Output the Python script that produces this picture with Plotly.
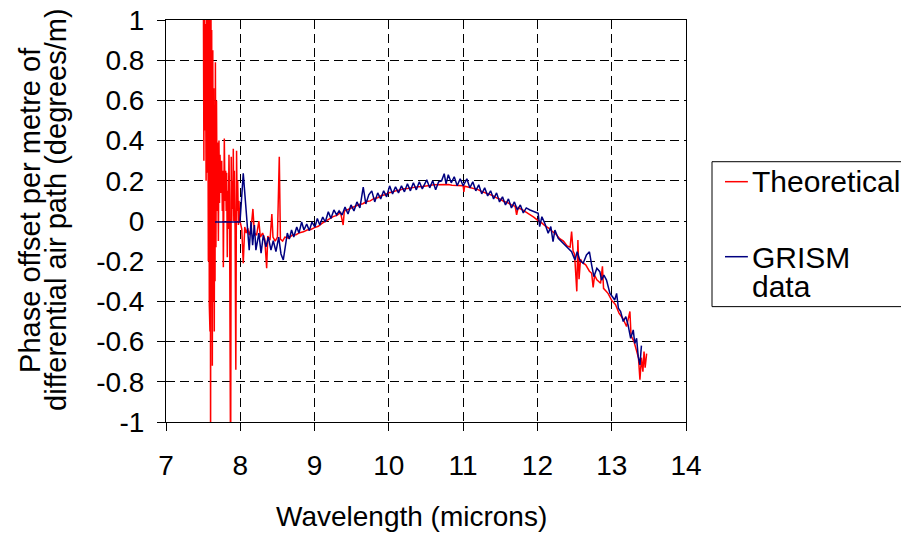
import plotly.graph_objects as go

# Theoretical phase offset
theo_wavelength = [
    7.502, 7.505, 7.51, 7.515, 7.525, 7.53, 7.54, 7.547, 7.555, 7.56, 7.57, 7.575,
    7.583, 7.587, 7.592, 7.596, 7.60, 7.605, 7.61, 7.615, 7.62, 7.624, 7.63, 7.637,
    7.643, 7.65, 7.655, 7.66, 7.665, 7.672, 7.68, 7.688, 7.695, 7.705, 7.713, 7.72,
    7.727, 7.74, 7.75, 7.758, 7.765, 7.772, 7.785, 7.795, 7.803, 7.81, 7.817, 7.825,
    7.83, 7.838, 7.848, 7.855, 7.87, 7.878, 7.885, 7.893, 7.90, 7.906, 7.913, 7.92,
    7.93, 7.94, 7.95, 7.958, 7.965, 7.975, 7.982, 7.99, 7.996,
    8.02, 8.04, 8.06, 8.08, 8.10, 8.12, 8.145, 8.17, 8.19, 8.22, 8.25, 8.27, 8.30,
    8.33, 8.355, 8.37, 8.40, 8.425, 8.44, 8.47, 8.50, 8.525, 8.54, 8.57, 8.60, 8.65,
    8.70, 8.75, 8.80, 8.85, 8.90, 8.95, 9.00, 9.05, 9.10, 9.15, 9.20, 9.25, 9.30,
    9.35, 9.385, 9.40, 9.45, 9.50, 9.55, 9.60, 9.65, 9.70, 9.75, 9.80, 9.85, 9.90,
    9.95, 10.00, 10.05, 10.10, 10.15, 10.20, 10.25, 10.30, 10.35, 10.40, 10.45,
    10.50, 10.55, 10.60, 10.65, 10.70, 10.75, 10.80, 10.85, 10.90, 10.95, 11.00,
    11.01, 11.02, 11.05, 11.10, 11.15, 11.20, 11.25, 11.30, 11.35, 11.40, 11.45,
    11.50, 11.55, 11.60, 11.65, 11.70, 11.72, 11.74, 11.80, 11.85, 11.90, 11.95,
    12.00, 12.05, 12.10, 12.15, 12.20, 12.25, 12.30, 12.35, 12.40, 12.44, 12.46,
    12.48, 12.50, 12.53, 12.545, 12.56, 12.58, 12.60, 12.65, 12.70, 12.73, 12.75,
    12.77, 12.80, 12.85, 12.875, 12.89, 12.95, 13.00, 13.05, 13.10, 13.15, 13.20,
    13.245, 13.26, 13.30, 13.33, 13.36, 13.38, 13.40, 13.42, 13.435, 13.45, 13.47,
]
theo_phase = [
    1.3, 0.62, 0.3, 1.3, 0.45, 0.98, 0.2, 1.3, 0.24, 1.3, -0.2, 1.3,
    -0.42, 0.9, -0.55, 1.3, -1.3, 1.3, -0.3, 0.95, -0.45, -0.72, 0.85, -0.4,
    0.66, -0.55, 0.5, -0.3, 0.79, -0.13, 0.6, 0.05, 0.39, -0.1, 0.4, 0.09,
    0.33, 0.14, 0.3, 0.05, 0.25, -0.23, 0.41, 0.1, 0.25, 0.05, 0.24, -0.18,
    0.15, -0.04, 0.33, 0.1, -1.3, 0.32, 0.0, 0.2, 0.06, 0.36, 0.0, 0.25,
    -0.05, -0.74, 0.35, 0.05, 0.2, -0.02, 0.1, 0.02, 0.0,
    -0.04, -0.21, -0.03, -0.06, -0.035, -0.07, -0.04, 0.06, -0.06, -0.07, 0.0, -0.08, -0.06,
    -0.09, -0.235, -0.075, -0.095, 0.035, -0.08, -0.1, -0.08, 0.32, -0.09, -0.1, -0.08, -0.085,
    -0.07, -0.068, -0.058, -0.054, -0.045, -0.042, -0.033, -0.026, -0.012, 0.0, 0.008, 0.022, 0.028,
    0.042, -0.02, 0.05, 0.057, 0.066, 0.071, 0.082, 0.086, 0.097, 0.10, 0.112, 0.116, 0.127,
    0.131, 0.141, 0.144, 0.151, 0.154, 0.161, 0.162, 0.166, 0.167, 0.171, 0.172,
    0.176, 0.177, 0.18, 0.18, 0.182, 0.18, 0.181, 0.178, 0.178, 0.176, 0.175,
    0.145, 0.173, 0.17, 0.166, 0.159, 0.156, 0.147, 0.141, 0.132, 0.126, 0.115,
    0.108, 0.097, 0.091, 0.08, 0.073, 0.03, 0.066, 0.055, 0.044, 0.029, 0.019,
    0.004, -0.007, -0.023, -0.035, -0.052, -0.066, -0.088, -0.1, -0.124, -0.13, -0.053,
    -0.15, -0.165, -0.35, -0.095, -0.29, -0.19, -0.205, -0.218, -0.25, -0.26, -0.33,
    -0.27, -0.293, -0.31, -0.225, -0.335, -0.36, -0.395, -0.415, -0.46, -0.485, -0.525,
    -0.45, -0.57, -0.6, -0.64, -0.68, -0.79, -0.68, -0.75, -0.65, -0.73, -0.66,
]

# GRISM measurements
grism_wavelength = [
    7.66, 7.996, 8.04, 8.086, 8.12, 8.144, 8.166, 8.19, 8.21, 8.25, 8.28, 8.31,
    8.346, 8.377, 8.413, 8.444, 8.48, 8.517, 8.548, 8.579, 8.606, 8.633, 8.66,
    8.69, 8.72, 8.76, 8.79, 8.826, 8.857, 8.894, 8.93, 8.965, 9.005, 9.037, 9.07,
    9.11, 9.144, 9.185, 9.22, 9.26, 9.297, 9.33, 9.37, 9.41, 9.45, 9.49, 9.53,
    9.57, 9.61, 9.655, 9.69, 9.73, 9.77, 9.81, 9.85, 9.89, 9.93, 9.97, 10.01,
    10.05, 10.09, 10.13, 10.17, 10.21, 10.25, 10.29, 10.33, 10.37, 10.41, 10.45,
    10.51, 10.55, 10.59, 10.63, 10.67, 10.71, 10.745, 10.77, 10.80, 10.84, 10.88,
    10.92, 10.96, 11.00, 11.05, 11.09, 11.13, 11.17, 11.21, 11.25, 11.29, 11.33,
    11.37, 11.41, 11.45, 11.49, 11.53, 11.57, 11.61, 11.65, 11.69, 11.73, 11.77,
    11.81, 11.85, 11.90, 12.01, 12.03, 12.06, 12.10, 12.145, 12.18, 12.21, 12.235,
    12.28, 12.325, 12.37, 12.415, 12.46, 12.505, 12.535, 12.57, 12.616, 12.66,
    12.70, 12.73, 12.76, 12.80, 12.84, 12.864, 12.895, 12.93, 12.976, 13.01, 13.04,
    13.066, 13.09, 13.12, 13.155, 13.19, 13.22, 13.255, 13.29, 13.31, 13.335,
    13.357, 13.38, 13.40,
]
grism_phase = [
    -0.005, -0.005, 0.237, -0.012, -0.145, -0.005, -0.12, -0.02, -0.145, -0.06, -0.16, -0.07,
    -0.128, -0.08, -0.145, -0.098, -0.152, -0.08, -0.164, -0.194, -0.115, -0.06, -0.09,
    -0.045, -0.08, -0.03, -0.06, -0.005, -0.045, -0.015, -0.048, -0.005, -0.03, 0.013, -0.02,
    0.02, -0.005, 0.046, 0.013, 0.055, 0.03, 0.05, 0.03, 0.07, 0.035, 0.08, 0.05,
    0.095, 0.065, 0.168, 0.085, 0.13, 0.15, 0.095, 0.14, 0.11, 0.15, 0.12, 0.175,
    0.135, 0.17, 0.14, 0.175, 0.145, 0.185, 0.15, 0.19, 0.155, 0.195, 0.16,
    0.205, 0.165, 0.2, 0.155, 0.195, 0.2, 0.235, 0.185, 0.23, 0.19, 0.22,
    0.175, 0.21, 0.175, 0.21, 0.165, 0.195, 0.15, 0.18, 0.135, 0.165, 0.125,
    0.15, 0.11, 0.14, 0.095, 0.12, 0.08, 0.11, 0.065, 0.095, 0.055, 0.08,
    0.04, 0.065, 0.055, 0.038, -0.028, 0.021, -0.012, -0.061, -0.028, -0.103, -0.045,
    -0.086, -0.103, -0.119, -0.136, -0.153, -0.194, -0.153, -0.194, -0.21, -0.169,
    -0.153, -0.219, -0.277, -0.235, -0.252, -0.294, -0.269, -0.294, -0.36, -0.377, -0.393,
    -0.36, -0.434, -0.45, -0.50, -0.476, -0.517, -0.584, -0.542, -0.609, -0.584,
    -0.675, -0.716, -0.62,
]

x_ticks = [7, 8, 9, 10, 11, 12, 13, 14]
y_ticks = [1, 0.8, 0.6, 0.4, 0.2, 0, -0.2, -0.4, -0.6, -0.8, -1]
y_labels = ["1", "0.8", "0.6", "0.4", "0.2", "0", "-0.2", "-0.4", "-0.6", "-0.8", "-1"]

RED = "#ff0000"
NAVY = "#000080"
FONT = "Liberation Sans, Arial, sans-serif"

fig = go.Figure()
fig.add_trace(go.Scatter(x=theo_wavelength, y=theo_phase, mode="lines", name="Theoretical",
                         line=dict(color=RED, width=1.5)))
fig.add_trace(go.Scatter(x=grism_wavelength, y=grism_phase, mode="lines", name="GRISM data",
                         line=dict(color=NAVY, width=1.5)))

axis_common = dict(showgrid=True, gridcolor="black", griddash="9px,5px", gridwidth=1,
                   zeroline=False, showline=True, linecolor="black", linewidth=1,
                   mirror=True, ticks="outside", ticklen=8, tickcolor="black",
                   automargin=False, ticklabeloverflow="allow", tickfont=dict(size=28))

# page body has an 8px margin, so the figure is 8px smaller than the window
fig.update_layout(
    width=901, height=528,
    margin=dict(l=158, r=223, t=12, b=114),
    paper_bgcolor="white", plot_bgcolor="white",
    font=dict(family=FONT, size=28, color="black"),
    hovermode=False,
    showlegend=False,
    xaxis=dict(range=[7, 14], tickvals=x_ticks, ticklabelstandoff=10, **axis_common),
    yaxis=dict(range=[-1, 1], tickvals=y_ticks, ticktext=y_labels, ticklabelstandoff=7,
               **axis_common),
)

# axis titles (tight line spacing like the original)
fig.add_annotation(text="Phase offset per metre of", xref="paper", yref="paper",
                   x=-0.262, y=0.527, textangle=-90, showarrow=False,
                   xanchor="center", yanchor="middle", font=dict(size=29))
fig.add_annotation(text="differential air path (degrees/m)", xref="paper", yref="paper",
                   x=-0.212, y=0.527, textangle=-90, showarrow=False,
                   xanchor="center", yanchor="middle", font=dict(size=29))
fig.add_annotation(text="Wavelength (microns)", xref="paper", yref="paper",
                   x=0.473, y=-0.234, showarrow=False, xanchor="center",
                   yanchor="middle", font=dict(size=28))

# legend box
fig.add_shape(type="rect", xref="paper", yref="paper", x0=1.05, x1=1.45,
              y0=0.287, y1=0.6475, line=dict(color="black", width=1),
              fillcolor="white", layer="above")
fig.add_shape(type="line", xref="paper", yref="paper", x0=1.075, x1=1.119,
              y0=0.5978, y1=0.5978, line=dict(color=RED, width=1.5))
fig.add_shape(type="line", xref="paper", yref="paper", x0=1.075, x1=1.119,
              y0=0.4112, y1=0.4112, line=dict(color=NAVY, width=1.5))
for label, ypos in [("Theoretical", 0.5978), ("GRISM", 0.408), ("data", 0.337)]:
    fig.add_annotation(text=label, xref="paper", yref="paper", x=1.123, y=ypos,
                       showarrow=False, xanchor="left", yanchor="middle",
                       height=27, font=dict(size=30))

fig.write_html("out.html")
